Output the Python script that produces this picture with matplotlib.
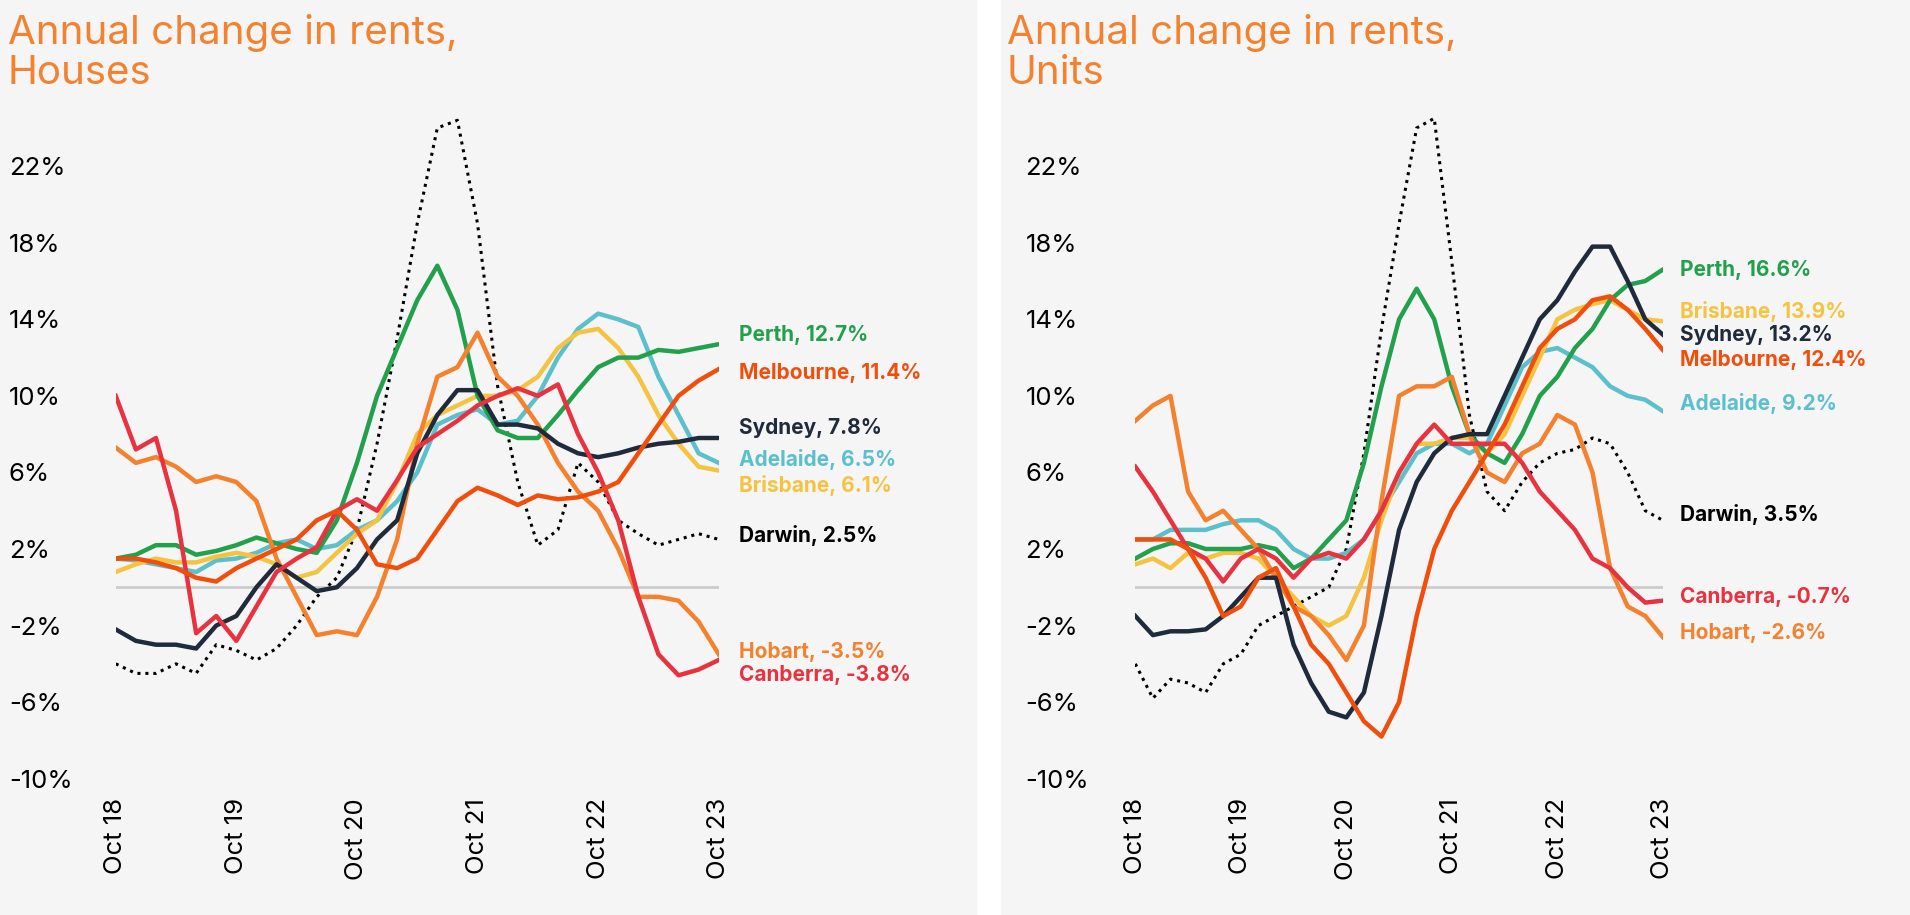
import matplotlib
matplotlib.use("Agg")
import matplotlib.pyplot as plt
from matplotlib.patches import Rectangle

plt.rcParams['font.family'] = ['Inter', 'DejaVu Sans']

# bi-monthly points, Oct 18 .. Oct 23
tick_labels = ["Oct 18", "Oct 19", "Oct 20", "Oct 21", "Oct 22", "Oct 23"]
yticks = [-10, -6, -2, 2, 6, 10, 14, 18, 22]

houses_perth = [1.5,1.7,2.2,2.2,1.7,1.9,2.2,2.6,2.3,2.0,1.8,3.5,6.5,10.0,12.5,15.0,16.8,14.5,10.0,8.2,7.8,7.8,9.0,10.3,11.5,12.0,12.0,12.4,12.3,12.5,12.7]
houses_melbourne = [1.5,1.5,1.3,1.0,0.5,0.3,1.0,1.5,2.0,2.5,3.5,4.0,3.0,1.2,1.0,1.5,3.0,4.5,5.2,4.8,4.3,4.8,4.6,4.7,5.0,5.5,7.0,8.5,10.0,10.8,11.4]
houses_sydney = [-2.2,-2.8,-3.0,-3.0,-3.2,-2.0,-1.5,0.0,1.2,0.5,-0.2,0.0,1.0,2.5,3.5,7.0,9.0,10.3,10.3,8.5,8.5,8.3,7.5,7.0,6.8,7.0,7.3,7.5,7.6,7.8,7.8]
houses_adelaide = [1.5,1.4,1.2,1.0,0.8,1.4,1.5,1.8,2.3,2.5,2.0,2.2,3.0,3.5,4.5,6.0,8.5,9.0,9.3,8.5,8.7,10.0,12.0,13.5,14.3,14.0,13.6,11.0,9.0,7.0,6.5]
houses_brisbane = [0.8,1.2,1.5,1.3,1.3,1.6,1.8,1.6,1.2,0.5,0.8,1.8,2.8,3.5,5.5,8.0,9.0,9.5,10.0,10.0,10.3,11.0,12.5,13.3,13.5,12.5,11.0,9.0,7.5,6.3,6.1]
houses_hobart = [7.3,6.5,6.8,6.3,5.5,5.8,5.5,4.5,1.5,-0.5,-2.5,-2.3,-2.5,-0.5,2.5,7.5,11.0,11.5,13.3,11.0,10.0,8.5,6.5,5.0,4.0,2.0,-0.5,-0.5,-0.7,-1.8,-3.5]
houses_canberra = [10.0,7.2,7.8,4.0,-2.4,-1.5,-2.8,-1.0,0.8,1.5,2.1,4.0,4.6,4.0,5.6,7.3,8.0,8.7,9.5,10.0,10.4,10.0,10.6,8.0,6.0,3.5,-0.5,-3.5,-4.6,-4.3,-3.8]
houses_darwin = [-4.0,-4.5,-4.5,-4.0,-4.5,-3.0,-3.3,-3.8,-3.2,-2.0,-0.5,0.5,3.0,7.5,13.0,19.0,24.0,24.4,19.0,10.5,5.5,2.2,3.0,6.5,5.5,3.5,2.8,2.2,2.5,2.8,2.5]

units_perth = [1.5,2.0,2.3,2.3,2.0,2.0,2.0,2.2,2.0,1.0,1.5,2.5,3.5,6.5,10.5,14.0,15.6,14.0,10.5,8.0,7.0,6.5,8.0,10.0,11.0,12.5,13.5,15.0,15.8,16.0,16.6]
units_brisbane = [1.2,1.5,1.0,1.8,1.5,1.8,1.8,1.5,0.5,-0.5,-1.5,-2.0,-1.5,0.5,3.5,6.0,7.5,7.5,7.8,7.8,7.0,8.0,10.0,12.0,14.0,14.5,14.8,15.0,14.5,14.0,13.9]
units_sydney = [-1.5,-2.5,-2.3,-2.3,-2.2,-1.5,-0.5,0.5,0.5,-3.0,-5.0,-6.5,-6.8,-5.5,-1.5,3.0,5.5,7.0,7.8,8.0,8.0,10.0,12.0,14.0,15.0,16.5,17.8,17.8,16.0,14.0,13.2]
units_melbourne = [2.5,2.5,2.5,2.0,0.5,-1.5,-1.0,0.5,1.0,-1.0,-3.0,-4.0,-5.5,-7.0,-7.8,-6.0,-1.5,2.0,4.0,5.5,7.0,8.5,10.5,12.5,13.5,14.0,15.0,15.2,14.5,13.5,12.4]
units_adelaide = [2.5,2.5,3.0,3.0,3.0,3.3,3.5,3.5,3.0,2.0,1.5,1.5,1.8,2.5,4.0,5.5,7.0,7.5,7.5,7.0,7.5,9.5,11.5,12.3,12.5,12.0,11.5,10.5,10.0,9.8,9.2]
units_canberra = [6.3,5.0,3.5,2.0,1.5,0.3,1.5,2.0,1.5,0.5,1.5,1.8,1.5,2.5,4.0,6.0,7.5,8.5,7.5,7.5,7.5,7.5,6.5,5.0,4.0,3.0,1.5,1.0,0.0,-0.8,-0.7]
units_hobart = [8.7,9.5,10.0,5.0,3.5,4.0,3.0,2.0,0.5,-1.0,-1.5,-2.5,-3.8,-2.0,4.5,10.0,10.5,10.5,11.0,8.0,6.0,5.5,7.0,7.5,9.0,8.5,6.0,1.0,-1.0,-1.5,-2.6]
units_darwin = [-4.0,-5.8,-4.8,-5.0,-5.5,-4.0,-3.5,-2.0,-1.5,-1.0,-0.5,0.0,2.0,7.0,13.5,19.0,24.0,24.5,17.0,9.0,5.0,4.0,5.5,6.5,7.0,7.2,7.8,7.5,6.0,4.0,3.5]

colors = {"Perth": "#22a04b", "Melbourne": "#f04e0c", "Sydney": "#1f2b3b",
          "Adelaide": "#5cbfcc", "Brisbane": "#f5c342", "Hobart": "#f3812e",
          "Canberra": "#e8323f", "Darwin": "#000000"}

houses = {"Darwin": houses_darwin, "Adelaide": houses_adelaide, "Brisbane": houses_brisbane,
          "Perth": houses_perth, "Hobart": houses_hobart, "Sydney": houses_sydney,
          "Canberra": houses_canberra, "Melbourne": houses_melbourne}
units = {"Darwin": units_darwin, "Adelaide": units_adelaide, "Brisbane": units_brisbane,
         "Perth": units_perth, "Hobart": units_hobart, "Sydney": units_sydney,
         "Canberra": units_canberra, "Melbourne": units_melbourne}
# label vertical positions (layout, in data units)
houses_label_y = {"Perth": 13.2, "Melbourne": 11.2, "Sydney": 8.3, "Adelaide": 6.7,
                  "Brisbane": 5.3, "Darwin": 2.7, "Hobart": -3.4, "Canberra": -4.6}
units_label_y = {"Perth": 16.6, "Brisbane": 14.4, "Sydney": 13.2, "Melbourne": 11.9,
                 "Adelaide": 9.6, "Darwin": 3.8, "Canberra": -0.5, "Hobart": -2.4}

fig = plt.figure(figsize=(19.10, 9.15), dpi=100, facecolor="white")
fig.patches.append(Rectangle((0, 0), 0.511, 1, transform=fig.transFigure, color="#f5f5f5", zorder=-10))
fig.patches.append(Rectangle((0.524, 0), 0.476, 1, transform=fig.transFigure, color="#f5f5f5", zorder=-10))

def panel(rect, data, label_y, title, title_x, pad):
    ax = fig.add_axes(rect)
    ax.set_facecolor("none")
    n = len(data["Perth"])
    xs = list(range(n))
    ax.axhline(0, color="#cccccc", lw=2, zorder=1)
    for name, vals in data.items():
        if name == "Darwin":
            ax.plot(xs, vals, color="black", lw=2.2, ls=(0, (1, 1.6)), zorder=2)
        else:
            ax.plot(xs, vals, color=colors[name], lw=3.2, zorder=3)
    for name, vals in data.items():
        v = vals[-1]
        ax.text(n - 1 + 1.0, label_y[name], f"{name}, {v:.1f}%", color=colors[name],
                fontsize=15, fontweight="bold", va="center", ha="left", clip_on=False)
    ax.set_xlim(0, n - 1)
    ax.set_ylim(-10, 26)
    ax.set_yticks(yticks)
    ax.set_yticklabels([f"{t}%" for t in yticks], fontsize=18.5, ha="left")
    ax.tick_params(axis="y", length=0, pad=pad)
    ax.set_xticks([0, 6, 12, 18, 24, 30])
    ax.set_xticklabels(tick_labels, rotation=90, fontsize=18.5, va="top")
    ax.tick_params(axis="x", length=0, pad=14)
    for s in ax.spines.values():
        s.set_visible(False)
    fig.text(title_x, 0.985, title, color="#f3812e", fontsize=29, va="top", ha="left", linespacing=1.1)
    return ax

panel([0.0606, 0.149, 0.3157, 0.753], houses, houses_label_y, "Annual change in rents,\nHouses", 0.004, 77)
panel([0.5944, 0.149, 0.2762, 0.753], units, units_label_y, "Annual change in rents,\nUnits", 0.527, 79)

fig.savefig("out.png", dpi=100, facecolor=fig.get_facecolor())
